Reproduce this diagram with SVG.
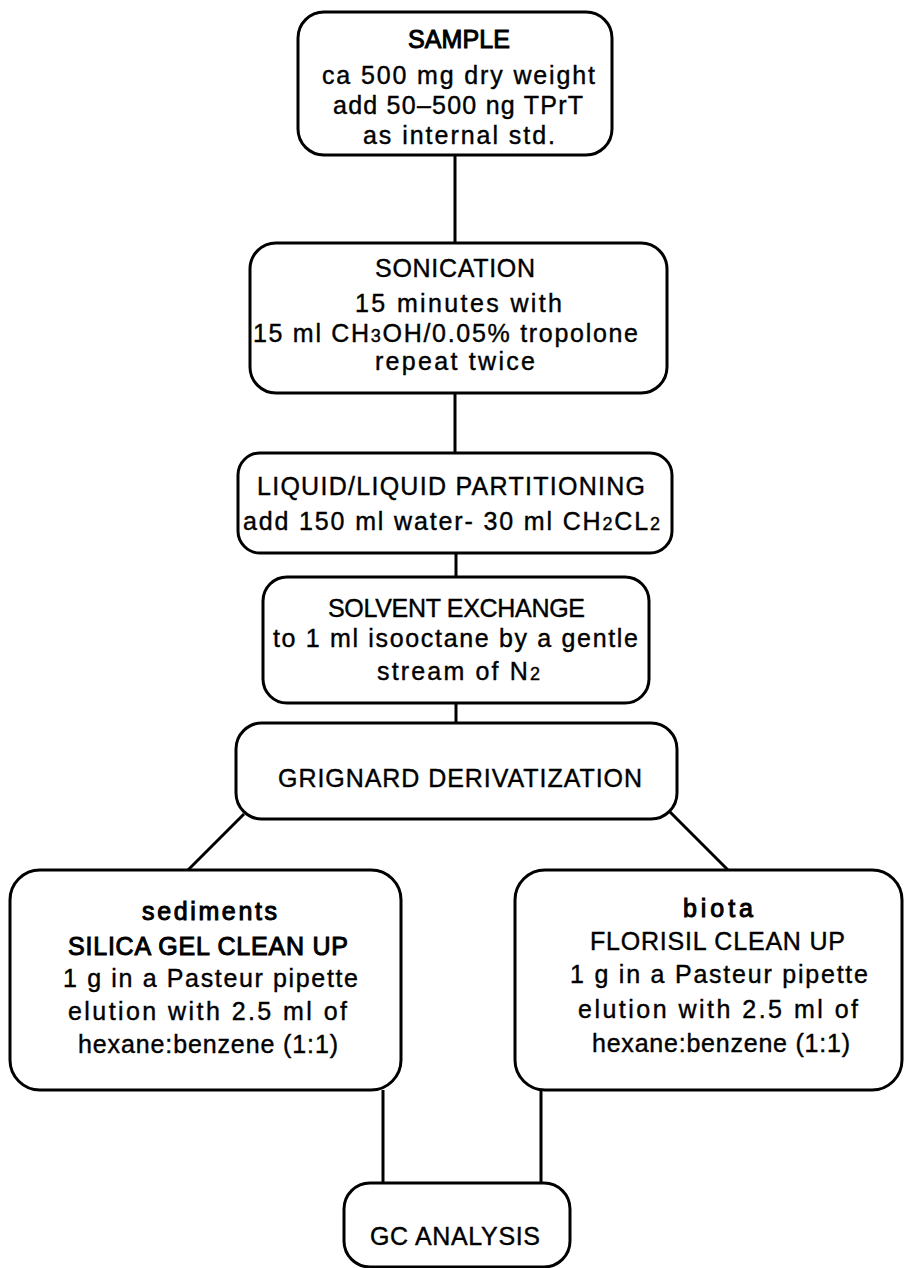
<svg xmlns="http://www.w3.org/2000/svg" width="904" height="1268" viewBox="0 0 904 1268">
<style>
.box{fill:#fff;stroke:#000;stroke-width:3}
.ln{fill:none;stroke:#000;stroke-width:3}
text{font-family:"Liberation Sans",Arial,sans-serif;font-size:25px;fill:#000;stroke:#000;stroke-width:0.4}
.b{stroke-width:1}
.sub{font-size:18px}
</style>
<rect width="904" height="1268" fill="#fff"/>
<g id="connectors">
<line class="ln" x1="455" y1="155" x2="455" y2="243"/>
<line class="ln" x1="455" y1="393" x2="455" y2="453"/>
<line class="ln" x1="456" y1="553" x2="456" y2="577"/>
<line class="ln" x1="456" y1="703" x2="456" y2="723"/>
<line class="ln" x1="244" y1="814" x2="188" y2="870"/>
<line class="ln" x1="670" y1="812" x2="728" y2="870"/>
<line class="ln" x1="383" y1="1090" x2="383" y2="1183"/>
<line class="ln" x1="541" y1="1090" x2="541" y2="1183"/>
</g>
<g id="sample">
<rect class="box" x="298" y="12" width="314" height="143" rx="26"/>
<text class="b" x="408" y="48" textLength="102">SAMPLE</text>
<text x="322" y="84" textLength="273">ca 500 mg dry weight</text>
<text x="333" y="114" textLength="250">add 50–500 ng TPrT</text>
<text x="363" y="144" textLength="192">as internal std.</text>
</g>
<g id="sonication">
<rect class="box" x="250" y="243" width="417" height="150" rx="26"/>
<text x="375" y="277" textLength="160">SONICATION</text>
<text x="355" y="312" textLength="207">15 minutes with</text>
<text x="253" y="342" textLength="385">15 ml CH<tspan class="sub">3</tspan>OH/0.05% tropolone</text>
<text x="375" y="370" textLength="160">repeat twice</text>
</g>
<g id="liquid">
<rect class="box" x="238" y="453" width="434" height="100" rx="22"/>
<text x="257" y="495" textLength="388">LIQUID/LIQUID PARTITIONING</text>
<text x="243" y="530" textLength="417">add 150 ml water- 30 ml CH<tspan class="sub">2</tspan>CL<tspan class="sub">2</tspan></text>
</g>
<g id="solvent">
<rect class="box" x="263" y="577" width="386" height="126" rx="24"/>
<text x="328" y="617" textLength="257">SOLVENT EXCHANGE</text>
<text x="273" y="647" textLength="365">to 1 ml isooctane by a gentle</text>
<text x="377" y="680" textLength="163">stream of N<tspan class="sub">2</tspan></text>
</g>
<g id="grignard">
<rect class="box" x="236" y="723" width="441" height="96" rx="26"/>
<text x="278" y="787" textLength="364">GRIGNARD DERIVATIZATION</text>
</g>
<g id="sediments">
<rect class="box" x="10" y="870" width="391" height="220" rx="30"/>
<text class="b" x="142" y="920" textLength="135">sediments</text>
<text class="b" x="68" y="955" textLength="280">SILICA GEL CLEAN UP</text>
<text x="63" y="987" textLength="295">1 g in a Pasteur pipette</text>
<text x="68" y="1020" textLength="279">elution with 2.5 ml of</text>
<text x="78" y="1053" textLength="260">hexane:benzene (1:1)</text>
</g>
<g id="biota">
<rect class="box" x="515" y="870" width="387" height="220" rx="30"/>
<text class="b" x="683" y="917" textLength="70">biota</text>
<text x="590" y="950" textLength="255">FLORISIL CLEAN UP</text>
<text x="570" y="983" textLength="298">1 g in a Pasteur pipette</text>
<text x="578" y="1018" textLength="280">elution with 2.5 ml of</text>
<text x="592" y="1052" textLength="258">hexane:benzene (1:1)</text>
</g>
<g id="gc">
<rect class="box" x="344" y="1183" width="226" height="84" rx="26"/>
<text x="370" y="1245" textLength="170">GC ANALYSIS</text>
</g>
</svg>
